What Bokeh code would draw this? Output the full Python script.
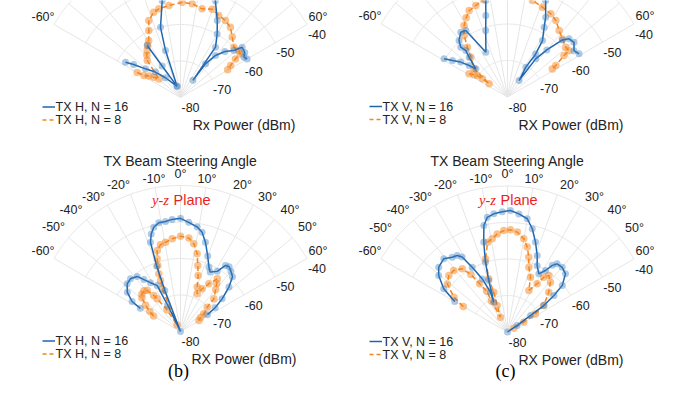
import numpy as np
from bokeh.plotting import figure
from bokeh.models import Range1d
from bokeh.embed import file_html
from bokeh.resources import INLINE
from bokeh.core.properties import value

NAN = float("nan")

# ---------------- data ----------------
theta_ticks = [-60, -50, -40, -30, -20, -10, 0, 10, 20, 30, 40, 50, 60]
theta_labels = ["-60°", "-50°", "-40°", "-30°", "-20°", "-10°", "0°", "10°", "20°", "30°", "40°", "50°", "60°"]
r_ticks = [-80, -70, -60, -50, -40]
r_labels = ["-80", "-70", "-60", "-50", "-40"]

# top-left panel (TX H)
tl16_t = [-57.3, -54.8, -50.7, -44.7, -37.3, -17, -30.2, -32.6, NAN, -17, -17.7, -15.9, -10.7, -6, 0, 6, 12, 17, 19.8, 25.5,
          30, 34.8, 35.9, 36.6, 39.8, 44, 48.6, 50.8, 55, 57.5, 59.9]
tl16_r = [-62.1, -64.3, -67.6, -70.2, -73.2, -76.8, -70, -63.1, NAN, -76.8, -66.5, -60, -53, -46, -43, -44, -47, -50, -51.8, -56.6,
          -59.9, -63.2, -74.2, -68.5, -65, -62.5, -60.5, -58.2, -58.5, -59.4, -58.9]
tl8_t = [-60, -59, -55.9, -52.8, -49.2, -42, -38.5, -35.3, -32, -29.1, -25.3, -22.4, -17.4, -13.7, -7.2, 1, 7.1, 13.7, 19.7, 25,
         30.3, 35.4, 40.6, 46.7, 51, 53.9, 54.9, 57.4, 59.5]
tl8_r = [-66.3, -68.3, -69.5, -70.8, -72.2, -66.4, -65.2, -64.2, -63, -62.1, -59.7, -57.2, -55.5, -55, -54.6, -53.9, -54.1, -55, -54.3, -55.2,
         -55.6, -56.4, -58.2, -59.9, -59.5, -59.7, -61.6, -63.7, -65]

# top-right panel (TX V)
tr16_t = [-58.9, -56.4, -53.3, -50.6, -48.3, -44, -41.9, -43.2, -40.6, -35.8, -32.1, -25.8, -18.1, -14.9, -12.7, -8, -2, 4, 10, 15,
          21.6, 25.6, 27.7, 31.8, 33.2, 31.6, 35.1, 36.5, 39.9, 43.9, 46.6, 50.6, 55.1, 58.9]
tr16_r = [-59.7, -61.9, -64, -66.4, -68.4, -64.9, -62.9, -61.3, -59.6, -58.1, -58.5, -66.4, -60.8, -56.9, -52.9, -47, -44, -44, -46, -48.5,
          -51.6, -55.8, -58.4, -61.8, -65.9, -70.4, -74.5, -67, -63.2, -58.3, -56.8, -56.4, -57.8, -57.1]
tr8_t = [-58.9, -56.5, -54.4, -53.9, -54.3, -49.8, -42.7, -38.8, -35.2, -31.3, -27.5, -23.9, -19.1, -14, -7, 0, 7, 14.5, 21.3, 27.5,
         32.3, 37.8, 43.4, 49.5, 53, 53.7, 56.9, 57.9]
tr8_r = [-67.7, -69, -69.9, -71.5, -73.8, -68, -65.2, -62.5, -59.4, -57.1, -55.5, -54.1, -53.5, -52.5, -52, -52, -52, -52.7, -53.6, -54.3,
         -55.2, -56.9, -58.1, -59, -58.9, -60.8, -64.2, -65.5]

# (b) y-z plane, TX H
bl16_t = [-60, -58.2, -53.6, -48.2, -43.5, -38.2, -35.2, -31.6, -26.9, -26, -22, -21, -20, -18.6, -16.7, -14.4, -11.3, -7.8, -4.3, 0,
          4.3, 9.1, 12.3, 15.6, 19.8, 23.8, 26.5, 31.4, 34.3, 36.9, 40, 43.5, 47.5, 51.9, 55.5, 58]
bl16_r = [-67.3, -64.4, -61.9, -60.4, -60.1, -60.8, -62.6, -64.3, -65.9, -72, -80, -68, -61, -54.2, -52.1, -50.5, -49.6, -49.6, -49.2, -49.0,
          -50.0, -51.0, -52.2, -54.6, -58.0, -60.7, -61.8, -60.7, -58.1, -57.8, -58.5, -59.3, -62.0, -65.5, -68.5, -71.3]
bl8_t = [-60, -57, -53, -49, -46, -42, -39, -36.6, -35.5, -32, -28, -23.2, -21.4, -20.6, -19, -17.8, -16, -13, -9.5, -5.1,
         0, 5.1, 8.6, 12.1, 14.7, 17.5, 20.6, 23.9, 26.9, 30.7, 34.9, 37, 40, 45.5, 47.7, 52.8, 55, 59]
bl8_r = [-71.5, -70, -68, -66, -65.3, -65, -65.5, -67.7, -69, -73, -78, -67.3, -65, -63.1, -60.9, -59.1, -56.9, -55.6, -55.2, -54.5,
         -53.9, -54.3, -55.7, -58.2, -61.3, -63.9, -67, -68.7, -66.9, -64.8, -62.4, -63.5, -65, -67.2, -70.1, -72, -73.3, -74.1]

# (c) y-z plane, TX V
br16_t = [-60, -55.9, -50.6, -46.7, -41, -36.5, -33.3, -31.2, -28.6, -25.4, -23.1, -24.7, -20, -17.5, -14.8, -12.5, -10, -6.6, -2.5, 1.4,
          5.5, 9.9, 13.5, 17.3, 21.2, 24.1, 28.3, 31.7, 33.9, 36.1, 40.2, 44.9, 49.6, 51.8, 53.9, 54.3, 56, 58]
br16_r = [-63.3, -58.9, -55.6, -54.1, -53.4, -54.5, -54.9, -56, -59.8, -63.9, -68.1, -71, -65, -59.9, -54.5, -50.1, -48.1, -47.4, -47, -46.7,
          -47.5, -48.5, -50.9, -54.2, -57.5, -60.1, -61.9, -60.2, -58, -56.9, -56.8, -57.5, -60.3, -63.8, -67.7, -72.2, -76.8, -80]
br8_t = [-60, -57, -51.4, -46.1, -41.1, -35.6, -32.5, -30, -27, -27.5, -25.3, -21.3, -19, -19.4, -16.7, -12.5, -9.3, -6, -2.1, 1.7,
         5.6, 9.9, 13.1, 15.9, 18.2, 22.8, 27.2, 31.6, 33.5, 36.2, 40.8, 46, 53.9, 57, 59, 60]
br8_r = [-66, -62.5, -58.9, -57.7, -57.6, -58.7, -61.3, -64.7, -67.5, -70.4, -75.5, -72.2, -68.5, -64.5, -59.1, -54.8, -54.1, -53, -52.2, -52,
         -52.5, -54.1, -56.1, -58.7, -61.3, -63.7, -67.2, -64.5, -62, -60.8, -62, -64.3, -67.7, -70.9, -74.8, -78]

# ---------------- layout / style ----------------
RAD = 146.0
RMIN, RMAX = -80.0, -40.0
BLUE = "#1f66b0"
ORANGE = "#f5861f"
GRID = "#e6e6e6"
TXT = "#222222"
SANS = value("Liberation Sans")
SERIF = value("Liberation Serif")

panels = [
    dict(cx=180.0, cy=97.0, s16=(tl16_t, tl16_r), s8=(tl8_t, tl8_r), pol="H", rx="Rx Power (dBm)", head=False, letter=None),
    dict(cx=507.0, cy=96.5, s16=(tr16_t, tr16_r), s8=(tr8_t, tr8_r), pol="V", rx="RX Power (dBm)", head=False, letter=None),
    dict(cx=180.0, cy=331.0, s16=(bl16_t, bl16_r), s8=(bl8_t, bl8_r), pol="H", rx="RX Power (dBm)", head=True, letter="(b)"),
    dict(cx=507.0, cy=331.5, s16=(br16_t, br16_r), s8=(br8_t, br8_r), pol="V", rx="RX Power (dBm)", head=True, letter="(c)"),
]

lab_dx = {0: 0.0, 10: -1.3, 20: 7.3, 30: 7.0, 40: 6.7, 50: 4.4, 60: -1.1}
lab_dy = {0: 2.0, 10: 4.6, 20: 3.4, 30: 3.6, 40: 0.6, 50: -1.2, 60: -1.0}


def polar(cx, cy, th, db):
    th = np.radians(np.asarray(th, dtype=float))
    r = (np.asarray(db, dtype=float) - RMIN) / (RMAX - RMIN) * RAD
    return cx + r * np.sin(th), cy - r * np.cos(th)


p = figure(width=659, height=382, x_range=Range1d(0, 659), y_range=Range1d(382, 0),
           x_axis_location=None, y_axis_location=None, toolbar_location=None,
           output_backend="svg", min_border=0)
p.min_border_left = p.min_border_right = p.min_border_top = p.min_border_bottom = 0
p.outline_line_color = None
p.xgrid.visible = False
p.ygrid.visible = False
p.background_fill_color = "white"
p.border_fill_color = "white"

for pn in panels:
    cx, cy = pn["cx"], pn["cy"]
    # grid rings
    arc = np.linspace(-60, 60, 121)
    for rt in r_ticks[1:]:
        gx, gy = polar(cx, cy, arc, np.full(arc.shape, rt))
        p.line(gx, gy, line_color=GRID, line_width=1)
    # radial spokes
    for t in theta_ticks:
        gx, gy = polar(cx, cy, [t, t], [RMIN, RMAX])
        p.line(gx, gy, line_color=GRID, line_width=1)

    # theta tick labels (only those inside the canvas)
    lx, ly = polar(cx, cy, theta_ticks, [RMIN + (RMAX - RMIN) * 160.0 / RAD] * len(theta_ticks))
    lx = [x + np.sign(t) * lab_dx[abs(t)] for x, t in zip(lx, theta_ticks)]
    ly = [y + lab_dy[abs(t)] for y, t in zip(ly, theta_ticks)]
    keep = [i for i in range(len(theta_ticks)) if ly[i] > 9]
    p.text([lx[i] for i in keep], [ly[i] for i in keep], text=[theta_labels[i] for i in keep],
           text_font=SANS, text_font_size="12.5px", text_color=TXT,
           text_align="center", text_baseline="middle")

    # r tick labels along the 60 deg edge
    rx_, ry_ = polar(cx, cy, [60] * len(r_ticks), r_ticks)
    p.text(rx_ + 10, ry_ + 10, text=r_labels, text_font=SANS, text_font_size="12.5px", text_color=TXT,
           text_align="center", text_baseline="middle")

    # r axis title
    p.text([cx + 63.5], [cy + 27.5], text=[pn["rx"]], text_font=SANS, text_font_size="14px",
           text_color=TXT, text_align="center", text_baseline="middle")

    # series: N = 8 (orange, dashed) then N = 16 (blue, solid)
    ox, oy = polar(cx, cy, *pn["s8"])
    p.line(ox, oy, line_color=ORANGE, line_width=1.5, line_dash="5 3")
    p.scatter(ox, oy, size=7.5, fill_color=ORANGE, fill_alpha=0.5, line_color=None)
    bx, by = polar(cx, cy, *pn["s16"])
    p.line(bx, by, line_color=BLUE, line_width=1.5)
    p.scatter(bx, by, size=7, fill_color="#3d80c2", fill_alpha=0.42, line_color=None)

    # legend
    p.line([cx - 138, cx - 125.5], [cy + 9.5, cy + 9.5], line_color=BLUE, line_width=1.5)
    p.line([cx - 138, cx - 125.5], [cy + 22.5, cy + 22.5], line_color=ORANGE, line_width=1.5, line_dash="4 3")
    p.text([cx - 125, cx - 125], [cy + 9.5, cy + 22.5],
           text=[f"TX {pn['pol']}, N = 16", f"TX {pn['pol']}, N = 8"],
           text_font=SANS, text_font_size="12.5px", text_color=TXT, text_align="left", text_baseline="middle")

    if pn["head"]:
        p.text([cx], [cy - 171], text=["TX Beam Steering Angle"], text_font=SANS, text_font_size="14px",
               text_color=TXT, text_align="center", text_baseline="middle")
        p.text([cx - 11.5], [cy - 132], text=["y-z"], text_font=SERIF, text_font_style="italic",
               text_font_size="14.5px", text_color="#ee1c1c", text_align="right", text_baseline="middle")
        p.text([cx - 7], [cy - 132], text=["Plane"], text_font=SANS,
               text_font_size="14.5px", text_color="#ee1c1c", text_align="left", text_baseline="middle")
    if pn["letter"]:
        p.text([cx - 2], [cy + 39], text=[pn["letter"]], text_font=SERIF, text_font_size="18px",
               text_color="black", text_align="center", text_baseline="middle")

open("out.html", "w").write(file_html(p, INLINE))
